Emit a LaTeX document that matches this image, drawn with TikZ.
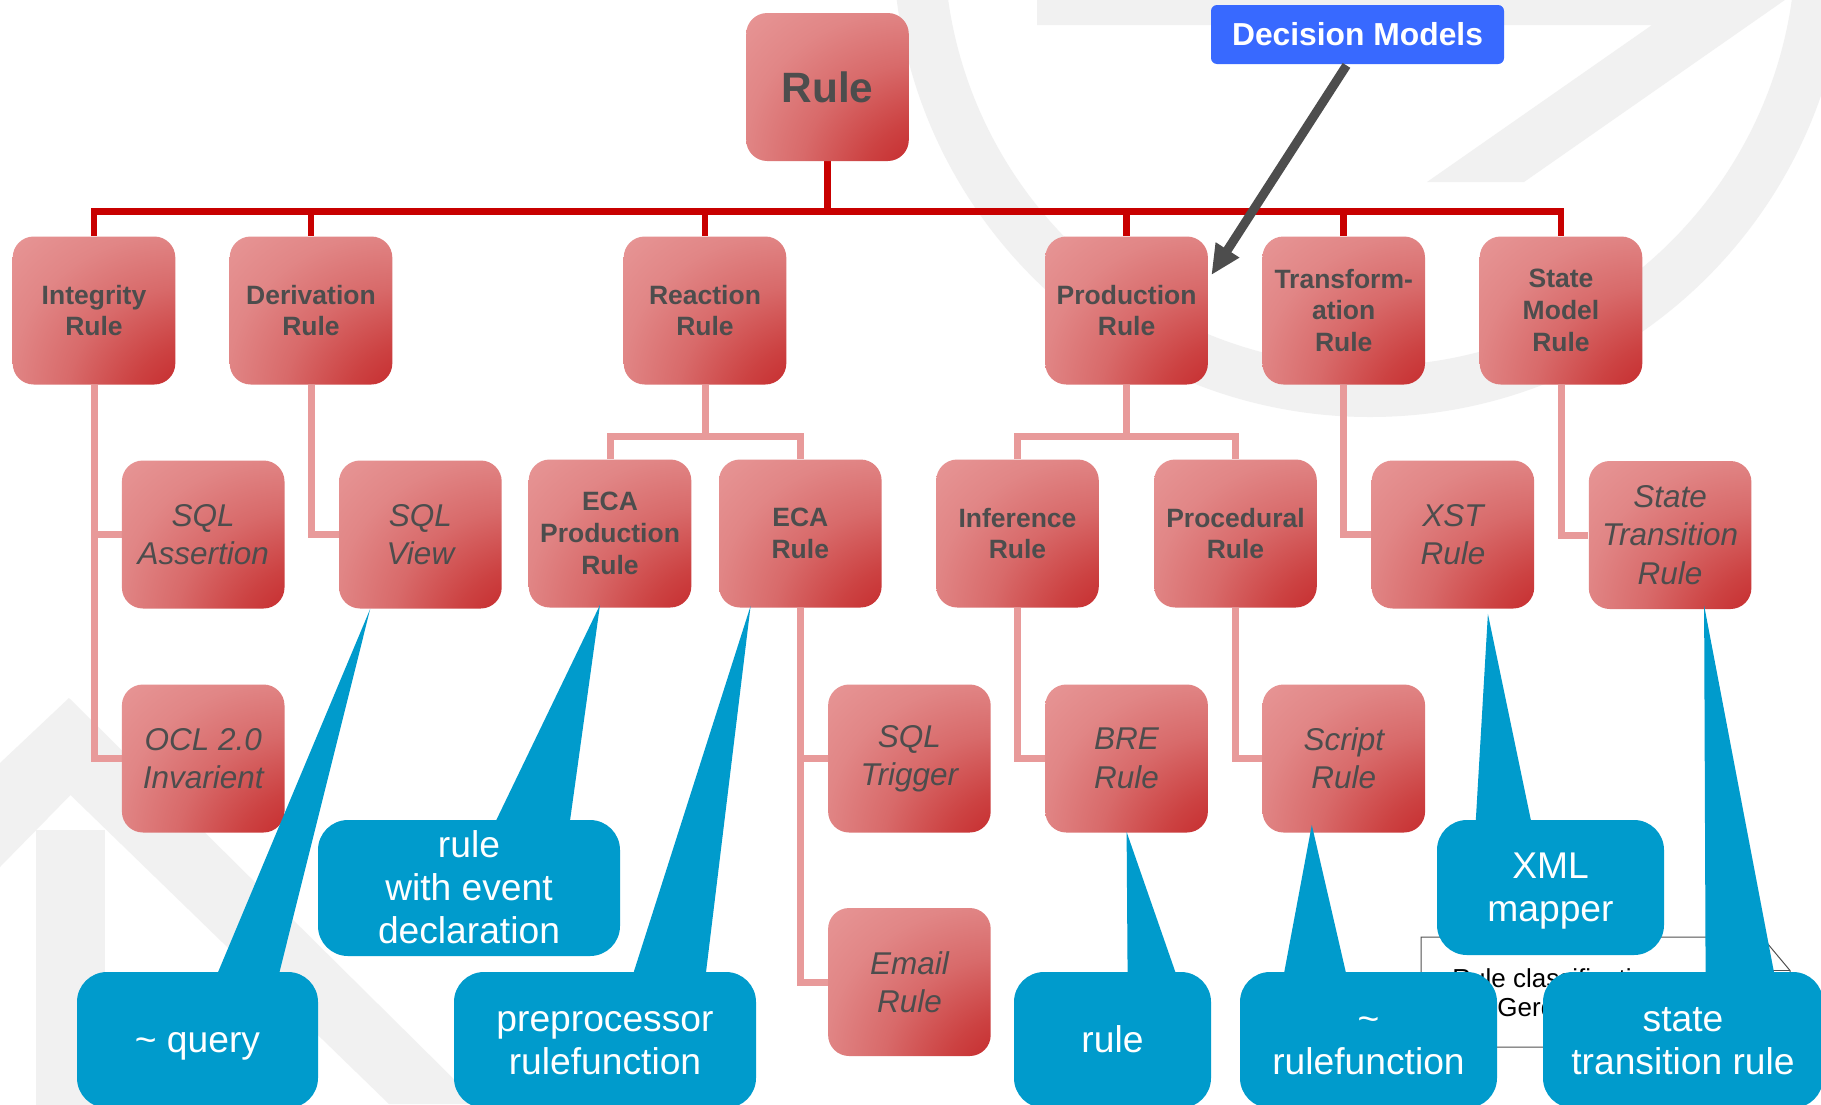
\documentclass[tikz,border=0pt]{standalone}
\usepackage{fontspec}
\setmainfont{Liberation Sans}
\usetikzlibrary{arrows.meta,calc}

\pgfdeclarelayer{wmlayer}
\pgfdeclarelayer{linklayer}
\pgfsetlayers{wmlayer,linklayer,main}

\definecolor{barred}{RGB}{200,0,0}
\definecolor{linkpink}{RGB}{232,154,154}
\definecolor{boxlight}{RGB}{233,156,156}
\definecolor{boxlighttwo}{RGB}{231,150,150}
\definecolor{boxsoft}{RGB}{225,134,134}
\definecolor{boxmid}{RGB}{216,106,106}
\definecolor{boxdeep}{RGB}{204,66,66}
\definecolor{boxdarktwo}{RGB}{194,26,30}
\definecolor{boxdark}{RGB}{190,16,22}
\definecolor{boxtext}{RGB}{77,77,77}
\definecolor{bubble}{RGB}{0,155,204}
\definecolor{dmblue}{RGB}{56,105,255}
\definecolor{arrowgray}{RGB}{77,77,77}
\definecolor{wmgray}{RGB}{241,241,241}
\definecolor{noteline}{RGB}{80,80,80}

% line strut matching the ascent and descent of the 18.6pt callout font
\newcommand{\bubstrut}{\rule[-3.9pt]{0pt}{20.7pt}}

% red glow in the lower right corner of every rule box
\pgfdeclareradialshading{boxshade}{\pgfpoint{48bp}{-48bp}}{%
  color(0bp)=(boxdark); color(12bp)=(boxdarktwo); color(26bp)=(boxdeep);
  color(38bp)=(boxmid); color(50bp)=(boxsoft); color(62bp)=(boxlighttwo);
  color(100bp)=(boxlight)}

\begin{document}
\begin{tikzpicture}[x=0.5pt,y=-0.5pt,
  rbox/.style={rectangle, rounded corners=10.5pt, minimum width=81.3pt,
    minimum height=74pt, inner sep=0pt, align=center, text=boxtext,
    shade, shading=boxshade},
  bld/.style={rbox, font=\fontsize{13.25}{15.9}\selectfont\bfseries},
  itl/.style={rbox, font=\fontsize{15.75}{19.2}\selectfont\itshape},
  rootbox/.style={rbox, font=\fontsize{21.2}{25}\selectfont\bfseries},
  redln/.style={draw=barred, line width=3.4pt},
  pinkln/.style={draw=linkpink, line width=3.5pt},
  bub/.style={rectangle, rounded corners=15pt, fill=bubble, inner sep=0pt,
    align=center, text=white, font=\fontsize{18.6}{21.5}\selectfont},
  bubtip/.style={fill=bubble},
  dmbox/.style={rectangle, rounded corners=3pt, fill=dmblue, inner sep=0pt,
    minimum width=146.5pt, minimum height=29.5pt, text=white,
    font=\fontsize{15.9}{19}\selectfont\bfseries},
  dmarrow/.style={draw=arrowgray, line width=4.5pt,
    -{Triangle[length=15pt,width=13pt]}},
  notefr/.style={draw=noteline, line width=0.5pt},
  notetxt/.style={inner sep=0pt, text=black, font=\fontsize{13}{15}\selectfont}
]
\useasboundingbox (0,0) rectangle (1821,1104);
\clip (0,0) rectangle (1821,1104);

% faint logo watermark
\begin{pgfonlayer}{wmlayer}
\fill[white] (0,0) rectangle (1821,1104);
\begin{scope}
\clip (0,0) rectangle (1821,1104);
\fill[wmgray, even odd rule] (1370,-60) circle[radius=477] (1370,-60) circle[radius=426];
\fill[wmgray] (1037,-5) -- (1792,-5) -- (1524,182) -- (1427,182) -- (1652,25) -- (1037,25) -- cycle;
\fill[wmgray] (0,763) -- (69,698) -- (479,1104) -- (389,1104) -- (70.5,795) -- (0,867) -- cycle;
\fill[wmgray] (36,830) rectangle (105,1110);
\end{scope}
\end{pgfonlayer}

% note sheet in the lower right corner
\filldraw[notefr, fill=white] (1421,937) -- (1762,937) -- (1790,970.5) -- (1790,1047) -- (1421,1047) -- cycle;
\draw[notefr] (1762,937) -- (1762,970.5) -- (1790,970.5);
\node[notetxt, anchor=base west] (notea) at (1452,987) {Rule classification};
\node[notetxt, anchor=base west] (noteb) at (1497,1016.7) {Gerd};

% rule boxes
\node[rootbox] (rule) at (827.5,87) {Rule};

\node[bld] (integ)  at (94,310.5)     {Integrity\\Rule};
\node[bld] (deriv)  at (311,310.5)    {Derivation\\Rule};
\node[bld] (react)  at (705,310.5)    {Reaction\\Rule};
\node[bld] (prod)   at (1126.6,310.5) {Production\\Rule};
\node[bld] (transf) at (1343.7,310.5) {Transform-\\ation\\Rule};
\node[bld] (statem) at (1561,310.5)   {State\\Model\\Rule};

\node[itl] (sqla)  at (203.2,534.5)  {SQL\\Assertion};
\node[itl] (sqlv)  at (420.4,534.5)  {SQL\\View};
\node[bld] (ecap)  at (610,533.5)    {ECA\\Production\\Rule};
\node[bld] (eca)   at (800.3,533.5)  {ECA\\Rule};
\node[bld] (infer) at (1017.5,533.5) {Inference\\Rule};
\node[bld] (proc)  at (1235.5,533.5) {Procedural\\Rule};
\node[itl] (xst)   at (1452.9,534.5) {XST\\Rule};
\node[itl] (stt)   at (1670.1,535) {State\\Transition\\Rule};

\node[itl] (ocl)    at (203.2,758.5)  {OCL 2.0\\Invarient};
\node[itl] (sqlt)   at (909.4,758.5)  {SQL\\Trigger};
\node[itl] (bre)    at (1126.6,758.5) {BRE\\Rule};
\node[itl] (script) at (1343.8,758.5) {Script\\Rule};

\node[itl] (email) at (909.4,982) {Email\\Rule};

% connectors, kept behind the boxes
\coordinate (rootj) at (827.5,211.7);
\coordinate (rj) at (705,436);
\coordinate (pj) at (1126.6,436);
\begin{pgfonlayer}{linklayer}
\draw[redln] (rule.south) -- (rootj);
\draw[redln] (integ.north) |- (rootj) -| (statem.north);
\draw[redln] (deriv.north) -- (deriv.north |- rootj);
\draw[redln] (react.north) -- (react.north |- rootj);
\draw[redln] (prod.north) -- (prod.north |- rootj);
\draw[redln] (transf.north) -- (transf.north |- rootj);

\draw[pinkln] (integ.south) |- (sqla.west);
\draw[pinkln] (integ.south) |- (ocl.west);
\draw[pinkln] (deriv.south) |- (sqlv.west);
\draw[pinkln] (react.south) -- (rj);
\draw[pinkln] (ecap.north) |- (rj) -| (eca.north);
\draw[pinkln] (eca.south) |- (sqlt.west);
\draw[pinkln] (eca.south) |- (email.west);
\draw[pinkln] (prod.south) -- (pj);
\draw[pinkln] (infer.north) |- (pj) -| (proc.north);
\draw[pinkln] (infer.south) |- (bre.west);
\draw[pinkln] (proc.south) |- (script.west);
\draw[pinkln] (transf.south) |- (xst.west);
\draw[pinkln] (statem.south) |- (stt.west);
\end{pgfonlayer}

% callouts
\coordinate (cqa)   at ($(sqlv.south west)+(31.5,0)$);
\coordinate (ceva)  at ($(ecap.south)+(-10,-3)$);
\coordinate (cprea) at ($(eca.south west)+(32,-2)$);
\coordinate (crula) at ($(bre.south)+(0,-1)$);
\coordinate (crfa)  at ($(script.south)+(-32,-8)$);
\coordinate (cxmla) at ($(xst.south)+(35,5)$);
\coordinate (csta)  at ($(stt.south)+(34,-4)$);

\node[bub, minimum width=120.5pt, minimum height=68pt] (cq) at (197.5,1040)
  {\bubstrut\textasciitilde{} query};
\fill[bubtip] (cqa) -- ($(cq.north west)+(140,4)$) -- ($(cq.north west)+(202,4)$) -- cycle;

\node[bub, minimum width=151pt, minimum height=68pt] (cev) at (469,888)
  {\bubstrut rule\\with event\\declaration\bubstrut};
\fill[bubtip] (ceva) -- ($(cev.north west)+(177,4)$) -- ($(cev.north west)+(252,4)$) -- cycle;

\node[bub, minimum width=151pt, minimum height=68pt] (cpre) at (605,1040)
  {\bubstrut preprocessor\\rulefunction\bubstrut};
\fill[bubtip] (cprea) -- ($(cpre.north west)+(179,4)$) -- ($(cpre.north west)+(252,4)$) -- cycle;

\node[bub, minimum width=98.5pt, minimum height=68pt] (crul) at (1112.5,1040)
  {\bubstrut rule};
\fill[bubtip] (crula) -- ($(crul.north west)+(114,4)$) -- ($(crul.north west)+(163,4)$) -- cycle;

\node[bub, minimum width=128.5pt, minimum height=68pt] (crf) at (1368.5,1040)
  {\bubstrut\textasciitilde\\rulefunction\bubstrut};
\fill[bubtip] (crfa) -- ($(crf.north west)+(44,4)$) -- ($(crf.north west)+(107,4)$) -- cycle;

\node[bub, minimum width=113.5pt, minimum height=67.5pt] (cxml) at (1550.5,887.5)
  {\bubstrut XML\\mapper\bubstrut};
\fill[bubtip] (cxmla) -- ($(cxml.north west)+(39,4)$) -- ($(cxml.north west)+(95,4)$) -- cycle;

\node[bub, minimum width=140pt, minimum height=68pt] (cst) at (1683,1040)
  {\bubstrut state\\transition rule\bubstrut};
\fill[bubtip] (csta) -- ($(cst.north west)+(163,4)$) -- ($(cst.north west)+(232,4)$) -- cycle;

% pointer from the decision models tag
\node[dmbox] (dm) at (1357.5,34.5) {Decision Models};
\draw[dmarrow] ($(dm.south)+(-11,1)$) -- ($(prod.north east)+(3,39)$);
\end{tikzpicture}
\end{document}
